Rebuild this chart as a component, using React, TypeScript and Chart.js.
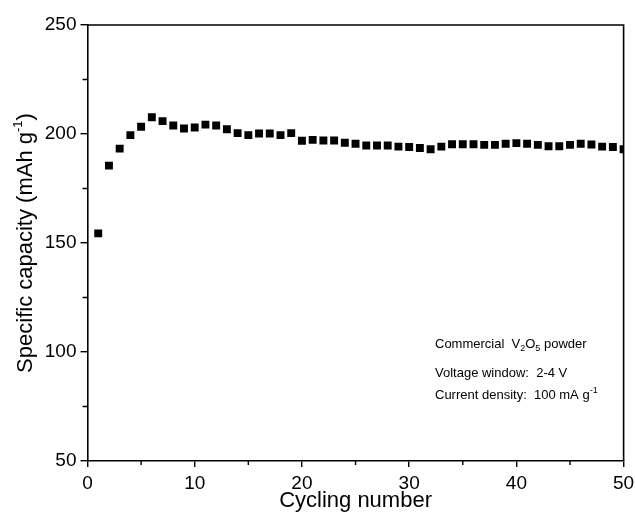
import React, { useEffect, useRef } from "react";
import { Chart, registerables } from "chart.js";

Chart.register(...registerables);

const cycles: number[] = [
  1, 2, 3, 4, 5, 6, 7, 8, 9, 10, 11, 12, 13, 14, 15, 16, 17, 18, 19, 20, 21, 22, 23, 24, 25,
  26, 27, 28, 29, 30, 31, 32, 33, 34, 35, 36, 37, 38, 39, 40, 41, 42, 43, 44, 45, 46, 47, 48, 49, 50,
];
const capacity: number[] = [
  154.4, 185.5, 193.3, 199.5, 203.3, 207.7, 205.9, 203.9, 202.5, 203.0, 204.3, 203.9, 202.2, 200.4, 199.5,
  200.2, 200.2, 199.5, 200.4, 196.9, 197.3, 197.0, 197.0, 196.0, 195.5, 194.7, 194.7, 194.7, 194.2, 194.0,
  193.6, 193.0, 194.2, 195.3, 195.3, 195.3, 195.0, 195.0, 195.5, 195.8, 195.5, 195.0, 194.4, 194.4, 195.0,
  195.5, 195.2, 194.2, 194.0, 193.0,
];
const xMinorTicks: number[] = [5, 15, 25, 35, 45];
const yMinorTicks: number[] = [75, 125, 175, 225];

const FONT = "'Liberation Sans', Arial, sans-serif";

const framePlugin = {
  id: "frame",
  afterDraw(chart: any) {
    const { ctx, chartArea, scales } = chart;
    const { left, right, top, bottom } = chartArea;
    ctx.save();
    ctx.strokeStyle = "#000";
    ctx.lineWidth = 1.6;
    ctx.beginPath();
    ctx.moveTo(left, top);
    ctx.lineTo(right, top);
    ctx.lineTo(right, bottom);
    ctx.stroke();
    // minor ticks
    ctx.lineWidth = 1.4;
    ctx.beginPath();
    for (const v of xMinorTicks) {
      const px = scales.x.getPixelForValue(v);
      ctx.moveTo(px, bottom);
      ctx.lineTo(px, bottom + 4);
    }
    for (const v of yMinorTicks) {
      const py = scales.y.getPixelForValue(v);
      ctx.moveTo(left, py);
      ctx.lineTo(left - 5, py);
    }
    ctx.stroke();

    // axis titles
    ctx.fillStyle = "#000";
    ctx.font = `22px ${FONT}`;
    ctx.textAlign = "center";
    ctx.textBaseline = "alphabetic";
    ctx.fillText("Cycling number", (left + right) / 2, 507);

    // y title with superscript
    const main = "Specific capacity (mAh g";
    const sup = "-1";
    const close = ")";
    ctx.font = `22px ${FONT}`;
    const wMain = ctx.measureText(main).width;
    const wClose = ctx.measureText(close).width;
    ctx.font = `13px ${FONT}`;
    const wSup = ctx.measureText(sup).width;
    const total = wMain + wSup + wClose;
    ctx.save();
    ctx.translate(32, (top + bottom) / 2);
    ctx.rotate(-Math.PI / 2);
    ctx.textAlign = "left";
    let x0 = -total / 2;
    ctx.font = `22px ${FONT}`;
    ctx.fillText(main, x0, 0);
    x0 += wMain;
    ctx.font = `13px ${FONT}`;
    ctx.fillText(sup, x0, -10);
    x0 += wSup;
    ctx.font = `22px ${FONT}`;
    ctx.fillText(close, x0, 0);
    ctx.restore();

    // annotation
    const ax = 435;
    const drawRuns = (runs: { t: string; dy: number; small?: boolean }[], y: number) => {
      let cx = ax;
      for (const r of runs) {
        ctx.font = r.small ? `9px ${FONT}` : `13px ${FONT}`;
        ctx.textAlign = "left";
        ctx.fillText(r.t, cx, y + r.dy);
        cx += ctx.measureText(r.t).width;
      }
    };
    drawRuns(
      [
        { t: "Commercial  V", dy: 0 },
        { t: "2", dy: 3, small: true },
        { t: "O", dy: 0 },
        { t: "5", dy: 3, small: true },
        { t: " powder", dy: 0 },
      ],
      348
    );
    drawRuns([{ t: "Voltage window:  2-4 V", dy: 0 }], 377);
    drawRuns(
      [
        { t: "Current density:  100 mA g", dy: 0 },
        { t: "-1", dy: -6, small: true },
      ],
      399
    );
    ctx.restore();
  },
};

export default function App() {
  const ref = useRef<HTMLCanvasElement | null>(null);
  useEffect(() => {
    document.body.style.margin = "0";
    const canvas = ref.current;
    if (!canvas) return;
    const chart = new Chart(canvas, {
      type: "scatter",
      data: {
        datasets: [
          {
            data: cycles.map((c, i) => ({ x: c, y: capacity[i] })),
            pointStyle: "rect",
            pointRadius: 5.6,
            pointHoverRadius: 5.6,
            backgroundColor: "#000",
            borderColor: "#000",
            borderWidth: 0,
          },
        ],
      },
      options: {
        responsive: false,
        animation: false,
        devicePixelRatio: 1,
        layout: { padding: { left: 0, right: 11.4, top: 25, bottom: 0 } },
        plugins: { legend: { display: false }, tooltip: { enabled: false } },
        scales: {
          x: {
            type: "linear",
            min: 0,
            max: 50,
            afterFit(scale: any) {
              scale.height = 53;
              scale.paddingLeft = 0;
              scale.paddingRight = 0;
            },
            ticks: { stepSize: 10, color: "#000", font: { family: FONT, size: 19 }, padding: 5, maxRotation: 0 },
            grid: { drawOnChartArea: false, drawTicks: true, tickLength: 6, color: "#000", lineWidth: 1.4 },
            border: { display: true, color: "#000", width: 1.6 },
          },
          y: {
            type: "linear",
            min: 50,
            max: 250,
            afterFit(scale: any) {
              scale.width = 87.5;
              scale.paddingTop = 0;
              scale.paddingBottom = 0;
            },
            ticks: { stepSize: 50, color: "#000", font: { family: FONT, size: 19 }, padding: 4 },
            grid: { drawOnChartArea: false, drawTicks: true, tickLength: 7, color: "#000", lineWidth: 1.4 },
            border: { display: true, color: "#000", width: 1.6 },
          },
        },
      },
      plugins: [framePlugin],
    });
    return () => chart.destroy();
  }, []);
  return <canvas ref={ref} width={635} height={514} style={{ display: "block" }} />;
}
